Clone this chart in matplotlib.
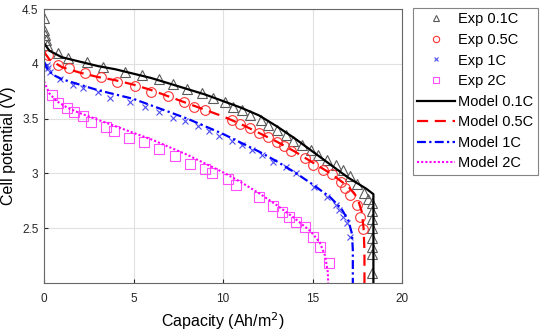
import matplotlib
matplotlib.use('Agg')
import matplotlib.pyplot as plt

plt.rcParams['font.family'] = ['Liberation Sans', 'DejaVu Sans']

# experimental points (capacity Ah/m2, potential V)
exp01_cap = [0.0, 0.0, 0.05, 0.1, 0.15, 0.8, 1.35, 2.4, 3.3, 4.5, 5.5, 6.4, 7.2, 8.0, 8.8, 9.45,
             10.1, 10.55, 11.05, 11.5, 12.1, 12.5, 13.0, 13.5, 13.9, 14.4, 14.9, 15.3, 15.8,
             16.3, 16.7, 17.1, 17.5, 17.9, 18.1, 18.3, 18.3, 18.3, 18.3, 18.3, 18.3, 18.3, 18.3]
exp01_v = [4.42, 4.31, 4.26, 4.22, 4.17, 4.10, 4.05, 4.02, 3.97, 3.93, 3.90, 3.86, 3.82, 3.77, 3.73, 3.69,
           3.65, 3.61, 3.58, 3.53, 3.49, 3.44, 3.40, 3.35, 3.30, 3.26, 3.21, 3.17, 3.12,
           3.08, 3.03, 2.98, 2.90, 2.82, 2.77, 2.73, 2.66, 2.58, 2.50, 2.41, 2.33, 2.26, 2.09]

exp05_cap = [0.2, 0.8, 1.4, 2.3, 3.2, 4.1, 5.1, 6.0, 6.9, 7.8, 8.4, 9.0, 10.5, 10.95, 11.5,
             12.0, 12.5, 13.0, 13.4, 13.8, 14.6, 15.0, 15.6, 16.1, 16.6, 16.8, 17.1, 17.5, 17.65, 17.8]
exp05_v = [4.08, 3.99, 3.96, 3.92, 3.88, 3.83, 3.80, 3.74, 3.71, 3.65, 3.61, 3.58, 3.49, 3.45, 3.41,
           3.37, 3.33, 3.29, 3.25, 3.20, 3.14, 3.08, 3.03, 2.99, 2.92, 2.87, 2.80, 2.71, 2.60, 2.49]

exp1_cap = [0.15, 0.2, 0.35, 0.9, 1.6, 2.2, 3.0, 3.7, 4.8, 5.65, 6.4, 7.2, 7.9, 8.6, 9.2, 9.8,
            10.5, 11.05, 11.6, 12.2, 12.8, 13.5, 14.1, 15.1, 15.8, 16.3, 16.5, 16.7, 16.9, 17.1]
exp1_v = [3.99, 3.96, 3.93, 3.86, 3.81, 3.78, 3.74, 3.69, 3.65, 3.61, 3.56, 3.51, 3.48, 3.43, 3.39, 3.34,
          3.30, 3.26, 3.21, 3.17, 3.10, 3.06, 3.00, 2.88, 2.78, 2.71, 2.67, 2.60, 2.55, 2.42]

exp2_cap = [0.45, 0.8, 1.3, 1.7, 2.2, 2.6, 3.45, 3.9, 4.75, 5.6, 6.4, 7.3, 8.15, 9.0, 9.4,
            10.3, 10.7, 12.0, 12.8, 13.3, 13.7, 14.1, 14.6, 15.0, 15.4, 15.9]
exp2_v = [3.72, 3.64, 3.60, 3.56, 3.52, 3.47, 3.42, 3.39, 3.32, 3.29, 3.22, 3.16, 3.09, 3.04, 3.00,
          2.95, 2.89, 2.78, 2.70, 2.65, 2.60, 2.56, 2.51, 2.42, 2.33, 2.18]

# model curves
mod01_cap = [0, 0.3, 1, 2, 3, 4, 5, 6, 7, 8, 9, 10, 11, 12, 13, 14, 15, 16, 17, 18, 18.4, 18.4]
mod01_v = [4.19, 4.12, 4.06, 4.02, 3.98, 3.95, 3.91, 3.87, 3.82, 3.77, 3.72, 3.66, 3.60, 3.53,
           3.43, 3.32, 3.20, 3.08, 2.96, 2.86, 2.81, 1.9]

mod05_cap = [0, 0.3, 1, 2, 3, 4, 5, 6, 7, 8, 9, 10, 11, 12, 13, 14, 15, 16, 17, 17.5, 17.75,
             17.85, 17.9, 17.9]
mod05_v = [4.11, 4.04, 3.97, 3.92, 3.88, 3.85, 3.81, 3.76, 3.70, 3.64, 3.58, 3.52, 3.45, 3.37,
           3.29, 3.20, 3.10, 3.00, 2.88, 2.78, 2.65, 2.50, 2.30, 1.9]

mod1_cap = [0, 0.2, 0.5, 1, 2, 3, 4, 5, 6, 7, 8, 9, 10, 11, 12, 13, 14, 15, 16, 16.6, 17.0,
            17.2, 17.25, 17.25]
mod1_v = [4.02, 3.95, 3.90, 3.86, 3.81, 3.76, 3.72, 3.68, 3.62, 3.56, 3.50, 3.43, 3.36, 3.28,
          3.20, 3.11, 3.01, 2.90, 2.78, 2.68, 2.57, 2.45, 2.30, 1.9]

mod2_cap = [0, 0.3, 0.7, 1.3, 2, 3, 4, 5, 6, 7, 8, 9, 10, 11, 12, 13, 14, 14.9, 15.4, 15.7,
            15.85, 15.9]
mod2_v = [3.84, 3.73, 3.66, 3.60, 3.55, 3.49, 3.43, 3.37, 3.31, 3.24, 3.17, 3.09, 3.01, 2.92,
          2.82, 2.71, 2.59, 2.47, 2.37, 2.25, 2.10, 1.9]

fig = plt.figure(figsize=(5.5, 3.36), dpi=100)
ax = fig.add_axes([0.08, 0.158, 0.651, 0.815])

ax.plot(exp01_cap, exp01_v, '^', color=(0.35, 0.35, 0.35), mfc='none', ms=7, mew=0.8, label='Exp 0.1C')
ax.plot(exp05_cap, exp05_v, 'o', color=(1, 0.2, 0.2), mfc='none', ms=7, mew=0.8, label='Exp 0.5C')
ax.plot(exp1_cap, exp1_v, 'x', color=(0.3, 0.3, 0.95), ms=5, mew=0.8, label='Exp 1C')
ax.plot(exp2_cap, exp2_v, 's', color=(1, 0.3, 1), mfc='none', ms=6.5, mew=0.8, label='Exp 2C')
ax.plot(mod01_cap, mod01_v, '-', color='k', lw=1.6, label='Model 0.1C')
ax.plot(mod05_cap, mod05_v, '--', color='r', lw=1.6, dashes=(5, 3), label='Model 0.5C')
ax.plot(mod1_cap, mod1_v, '-.', color='b', lw=1.6, dashes=(4, 1.5, 1, 1.5), label='Model 1C')
ax.plot(mod2_cap, mod2_v, ':', color=(1, 0, 1), lw=1.5, dashes=(1, 1), label='Model 2C')

ax.set_xlim(0, 20)
ax.set_ylim(2.0, 4.5)
ax.set_xticks([0, 5, 10, 15, 20])
ax.set_yticks([2.5, 3, 3.5, 4, 4.5])
ax.set_yticklabels(['2.5', '3', '3.5', '4', '4.5'])
ax.grid(True, color=(0.88, 0.88, 0.88), lw=0.8)
ax.set_axisbelow(True)
ax.tick_params(direction='in', length=3, labelsize=8.5, colors=(0.15, 0.15, 0.15))
ax.tick_params(axis='y', pad=4)
ax.tick_params(axis='x', pad=7)
for s in ax.spines.values():
    s.set_color((0.4, 0.4, 0.4))
    s.set_linewidth(0.8)

ax.set_xlabel('Capacity (Ah/m$^2$)', fontsize=11.5, labelpad=4)
ax.set_ylabel('Cell potential (V)', fontsize=11.5, labelpad=4)

leg = fig.legend(loc='upper left', bbox_to_anchor=(0.751, 0.976), fontsize=10.5,
                 handlelength=2.6, handletextpad=0.2, labelspacing=0.45,
                 borderpad=0.3, borderaxespad=0, markerscale=0.65, fancybox=False)
leg.get_frame().set_edgecolor((0.4, 0.4, 0.4))
leg.get_frame().set_linewidth(0.8)

fig.savefig('out.png', dpi=100)
